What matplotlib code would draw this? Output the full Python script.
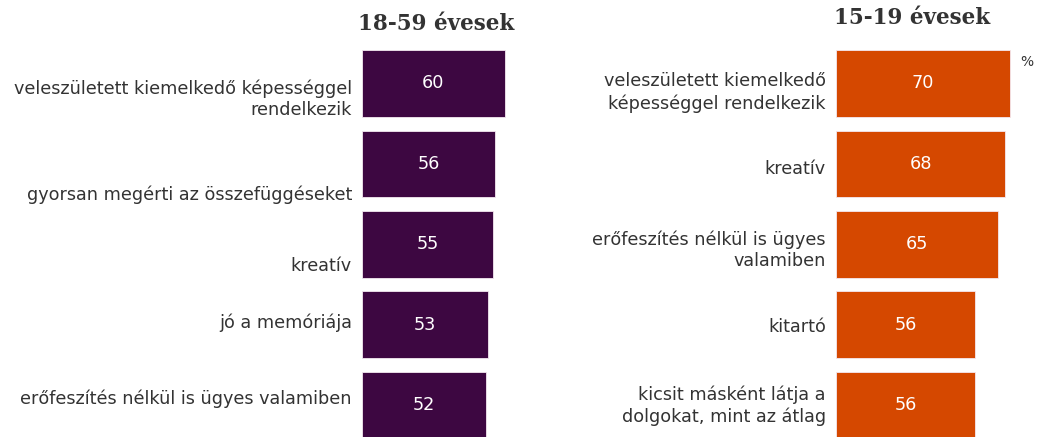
import matplotlib
matplotlib.use("Agg")
import matplotlib.pyplot as plt

plt.rcParams['font.family'] = ['DejaVu Sans']

# ---- data ----
left_title = "18-59 évesek"
left_labels = [
    "veleszületett kiemelkedő képességgel\nrendelkezik",
    "gyorsan megérti az összefüggéseket",
    "kreatív",
    "jó a memóriája",
    "erőfeszítés nélkül is ügyes valamiben",
]
left_values = [60, 56, 55, 53, 52]

right_title = "15-19 évesek"
right_labels = [
    "veleszületett kiemelkedő\nképességgel rendelkezik",
    "kreatív",
    "erőfeszítés nélkül is ügyes\nvalamiben",
    "kitartó",
    "kicsit másként látja a\ndolgokat, mint az átlag",
]
right_values = [70, 68, 65, 56, 56]
unit_label = "%"

# ---- style ----
W, H = 1037, 437
DPI = 100
left_color = "#3d0741"
right_color = "#d54800"
text_color = "#333333"
label_size = 12.7
value_size = 12.7

# per-label vertical offsets in pixels (positive = downward)
left_offsets = [16, 31, 22, -2, -6]
right_offsets = [9, 5, 6, 2, 1]

fig = plt.figure(figsize=(W / DPI, H / DPI), dpi=DPI)
fig.patch.set_facecolor("white")

top_px = 40
ax_h = (H - top_px) / H
ylim = (4.398, -0.541)


def panel(left_px, width_px, xmax, labels, values, color, offsets):
    ax = fig.add_axes([left_px / W, 0, width_px / W, ax_h])
    ys = list(range(len(values)))
    ax.barh(ys, values, height=0.83, color=color, edgecolor="#f4e8f0",
            linewidth=0.6, clip_on=True)
    ax.set_xlim(0, xmax)
    ax.set_ylim(*ylim)
    ax.axis("off")
    for y, v, lab, off in zip(ys, values, labels, offsets):
        ax.text(v / 2, y, f"{v}", color="white", ha="center", va="center",
                fontsize=value_size)
        ax.annotate(lab, xy=(0, y), xytext=(-10, -off),
                    textcoords="offset pixels", ha="right", va="center",
                    multialignment="right", fontsize=label_size,
                    color=text_color, linespacing=1.25,
                    annotation_clip=False)
    return ax


panel(362, 154.7, 65, left_labels, left_values, left_color, left_offsets)
panel(836, 186.5, 75, right_labels, right_values, right_color, right_offsets)

fig.text(436 / W, 1 - 24 / H, left_title, ha="center", va="center",
         fontsize=15.5, fontweight="bold", family="DejaVu Serif",
         color=text_color)
fig.text(912 / W, 1 - 18 / H, right_title, ha="center", va="center",
         fontsize=15.5, fontweight="bold", family="DejaVu Serif",
         color=text_color)
fig.text(1027 / W, 1 - 62 / H, unit_label, ha="center", va="center",
         fontsize=10, color=text_color)

fig.savefig("out.png", dpi=DPI, facecolor="white")
